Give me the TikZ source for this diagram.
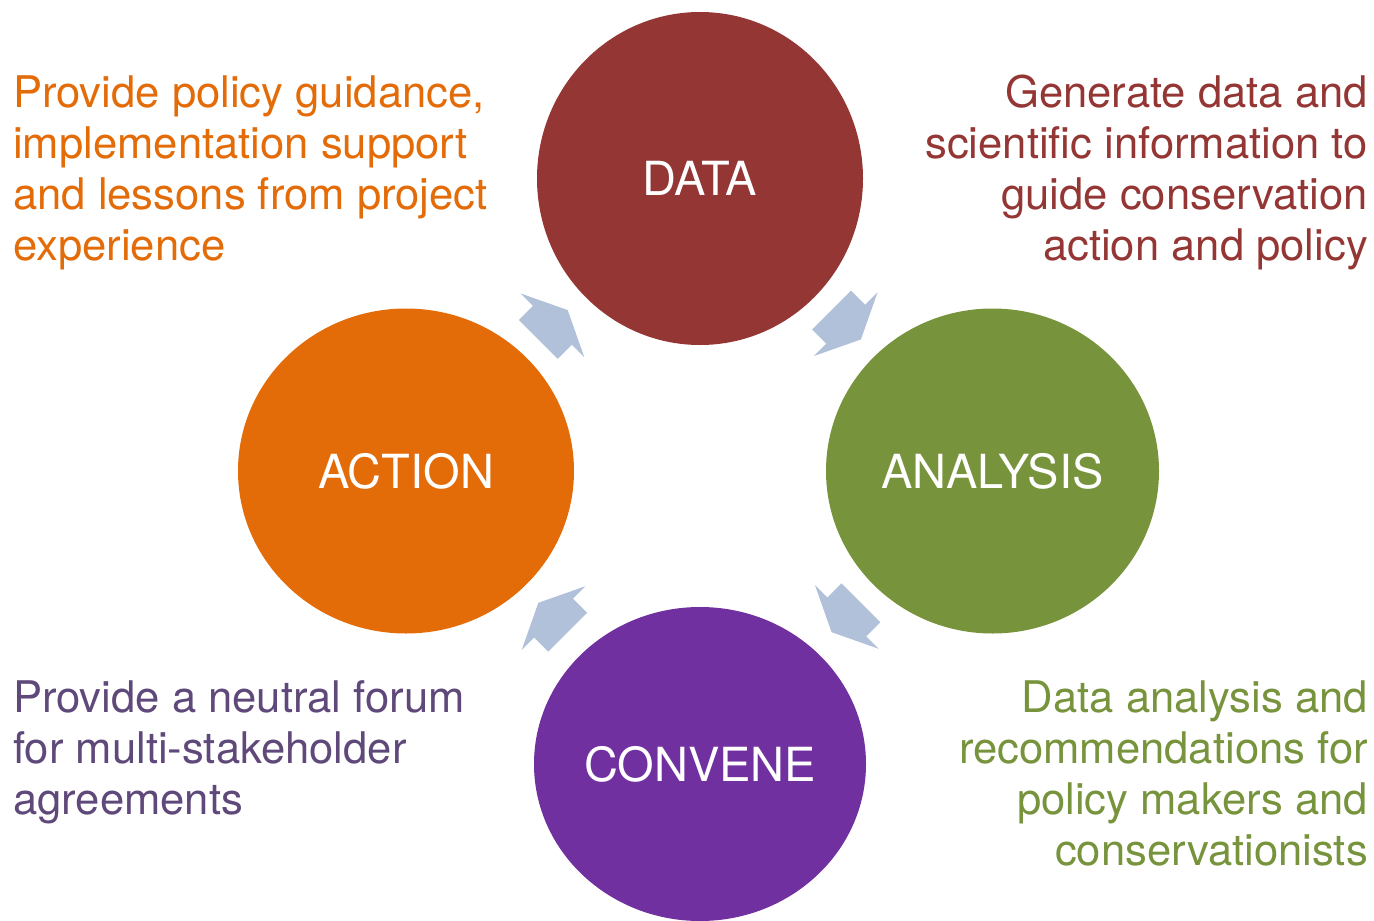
\documentclass[tikz,border=0pt]{standalone}
\usepackage{fontspec}
\setmainfont{TeX Gyre Heros}
\usetikzlibrary{shapes.geometric,calc}
\definecolor{datacol}{HTML}{943634}
\definecolor{anacol}{HTML}{77933C}
\definecolor{actcol}{HTML}{E36C09}
\definecolor{convcol}{HTML}{7030A0}
\definecolor{convtxt}{HTML}{5F497A}
\definecolor{arrcol}{HTML}{B1C1DA}
\tikzset{
  bubble/.style={ellipse, inner sep=0pt, text=white, font=\fontsize{47}{56}\selectfont},
  desc/.style={inner sep=0pt, font=\fontsize{43.6}{51}\selectfont},
  blockarrow/.pic={\fill[arrcol] (-20.75,-27.5) -- (-0.75,-27.5) -- (-0.75,-45) -- (20.75,0) -- (-0.75,45) -- (-0.75,27.5) -- (-20.75,27.5) -- cycle;}
}
\begin{document}
\begin{tikzpicture}[x=1pt,y=-1pt]
\useasboundingbox (0,0) rectangle (1374,921);
\node[bubble, fill=datacol, minimum width=326pt, minimum height=333pt] (data) at (700,178.5) {DATA};
\node[bubble, fill=anacol, minimum width=333pt, minimum height=325pt] (ana) at (992.5,471) {ANALYSIS};
\node[bubble, fill=actcol, minimum width=336pt, minimum height=325pt] (act) at (406,471) {ACTION};
\node[bubble, fill=convcol, minimum width=332pt, minimum height=314pt] (conv) at (700,764) {CONVENE};
\path ($(act)!0.5!(data)$) pic[rotate=45] {blockarrow};
\path ($(data)!0.5!(ana)$) pic[rotate=-45] {blockarrow};
\path ($(ana)!0.5!(conv)$) pic[rotate=-135] {blockarrow};
\path ($(conv)!0.5!(act)$) pic[rotate=135] {blockarrow};
\node[desc, text=actcol, anchor=base west] (tl) at (13,107) {\begin{tabular}[t]{@{}l@{}}Provide policy guidance,\\implementation support\\and lessons from project\\experience\end{tabular}};
\node[desc, text=datacol, anchor=base east] (tr) at (1368,107) {\begin{tabular}[t]{@{}r@{}}Generate data and\\scientific information to\\guide conservation\\action and policy\end{tabular}};
\node[desc, text=convtxt, anchor=base west] (bl) at (13,712) {\begin{tabular}[t]{@{}l@{}}Provide a neutral forum\\for multi-stakeholder\\agreements\end{tabular}};
\node[desc, text=anacol, anchor=base east] (br) at (1368,712) {\begin{tabular}[t]{@{}r@{}}Data analysis and\\recommendations for\\policy makers and\\conservationists\end{tabular}};
\end{tikzpicture}
\end{document}
